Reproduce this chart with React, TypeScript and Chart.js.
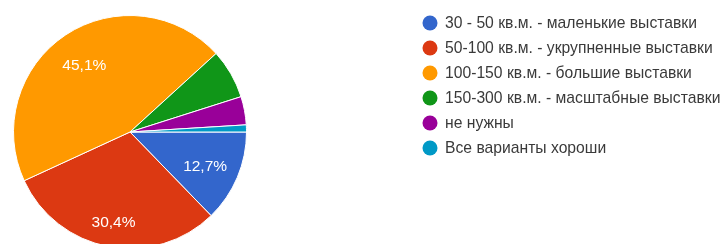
import React, { useEffect, useRef } from "react";
import { Chart, registerables } from "chart.js";

Chart.register(...registerables);

const categories = [
  "30 - 50 кв.м. - маленькие выставки",
  "50-100 кв.м. - укрупненные выставки",
  "100-150 кв.м. - большие выставки",
  "150-300 кв.м. - масштабные выставки",
  "не нужны",
  "Все варианты хороши",
];
const counts = [13, 31, 46, 7, 4, 1];
const sliceLabels = ["12,7%", "30,4%", "45,1%", "", "", ""];
const colors = ["#3366cc", "#dc3912", "#ff9900", "#109618", "#990099", "#0099c6"];
const labelRadius = [0.7, 0.77, 0.71, 0.7, 0.7, 0.7];

const FONT = "Arial, 'Liberation Sans', sans-serif";

const labelPlugin = {
  id: "sliceLabels",
  afterDatasetsDraw(chart: any) {
    const ctx = chart.ctx;
    const meta = chart.getDatasetMeta(0);
    ctx.save();
    ctx.fillStyle = "#ffffff";
    ctx.font = `15.5px ${FONT}`;
    ctx.textAlign = "center";
    ctx.textBaseline = "middle";
    meta.data.forEach((arc: any, i: number) => {
      const t = sliceLabels[i];
      if (!t) return;
      const p = arc.getProps(["x", "y", "startAngle", "endAngle", "outerRadius"], true);
      const mid = (p.startAngle + p.endAngle) / 2;
      const r = p.outerRadius * labelRadius[i];
      ctx.fillText(t, p.x + Math.cos(mid) * r, p.y + Math.sin(mid) * r + 2.5);
    });
    ctx.restore();
  },
};

const legendPlugin = {
  id: "customLegend",
  afterDraw(chart: any) {
    const ctx = chart.ctx;
    const x0 = 430;
    const y0 = 23;
    const step = 25;
    ctx.save();
    ctx.font = `15.7px ${FONT}`;
    ctx.textBaseline = "middle";
    ctx.textAlign = "left";
    categories.forEach((c, i) => {
      const y = y0 + i * step;
      ctx.beginPath();
      ctx.arc(x0, y, 7.5, 0, Math.PI * 2);
      ctx.fillStyle = colors[i];
      ctx.fill();
      ctx.fillStyle = "#3a3a3a";
      ctx.fillText(c, x0 + 15, y + 0.5);
    });
    ctx.restore();
  },
};

export default function App() {
  const ref = useRef<HTMLCanvasElement | null>(null);
  useEffect(() => {
    document.body.style.margin = "0";
    document.body.style.overflow = "hidden";
    const chart = new Chart(ref.current as HTMLCanvasElement, {
      type: "pie",
      data: {
        labels: categories,
        datasets: [
          {
            data: counts,
            backgroundColor: colors,
            borderColor: "#ffffff",
            borderWidth: 1,
          },
        ],
      },
      options: {
        animation: false,
        responsive: false,
        rotation: 90,
        layout: { padding: { left: 13, top: 15, right: 477, bottom: 5 } },
        plugins: {
          legend: { display: false },
          tooltip: { enabled: false },
        },
      },
      plugins: [labelPlugin, legendPlugin],
    });
    return () => chart.destroy();
  }, []);
  return (
    <div style={{ position: "fixed", left: 0, top: 0, width: 724, height: 254 }}>
      <canvas ref={ref} width={724} height={254} style={{ width: 724, height: 254 }} />
    </div>
  );
}
